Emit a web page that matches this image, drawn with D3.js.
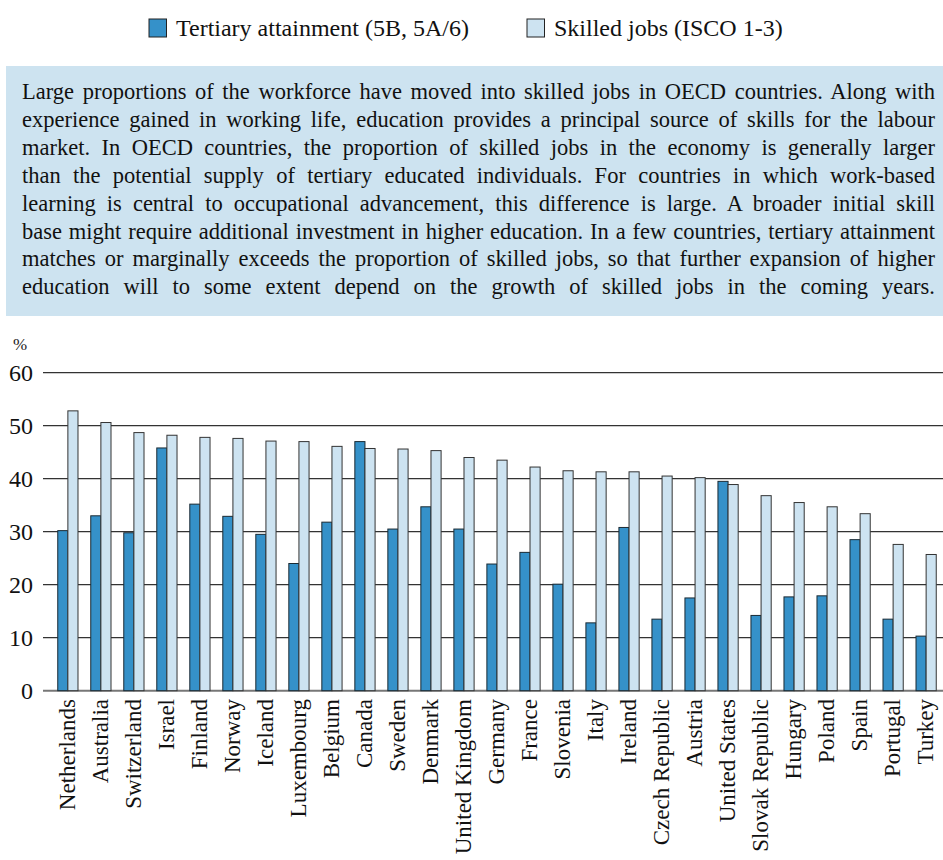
<!DOCTYPE html>
<html>
<head>
<meta charset="utf-8">
<script src="https://cdn.jsdelivr.net/npm/d3@7"></script>
<style>
  html, body { margin: 0; padding: 0; background: #fff; }
  svg { display: block; }
  svg text { font-family: "Liberation Serif", "DejaVu Serif", serif; }
</style>
</head>
<body>
<div id="chart"></div>
<script>
const countries = ["Netherlands","Australia","Switzerland","Israel","Finland","Norway","Iceland","Luxembourg","Belgium","Canada","Sweden","Denmark","United Kingdom","Germany","France","Slovenia","Italy","Ireland","Czech Republic","Austria","United States","Slovak Republic","Hungary","Poland","Spain","Portugal","Turkey"];
const tertiary = [30.2,33.0,29.8,45.8,35.2,32.9,29.5,24.0,31.8,47.0,30.5,34.7,30.5,23.9,26.1,20.1,12.8,30.8,13.5,17.5,39.5,14.2,17.7,17.9,28.5,13.5,10.3];
const skilled  = [52.8,50.6,48.7,48.2,47.8,47.6,47.1,47.0,46.1,45.7,45.6,45.3,44.0,43.5,42.2,41.5,41.3,41.3,40.5,40.2,38.9,36.8,35.5,34.7,33.4,27.6,25.7];
const seriesNames = ["Tertiary attainment (5B, 5A/6)", "Skilled jobs (ISCO 1-3)"];
const yTicks = [0,10,20,30,40,50,60];
const bodyLines = [
  "Large proportions of the workforce have moved into skilled jobs in OECD countries. Along with",
  "experience gained in working life, education provides a principal source of skills for the labour",
  "market. In OECD countries, the proportion of skilled jobs in the economy is generally larger",
  "than the potential supply of tertiary educated individuals. For countries in which work-based",
  "learning is central to occupational advancement, this difference is large. A broader initial skill",
  "base might require additional investment in higher education. In a few countries, tertiary attainment",
  "matches or marginally exceeds the proportion of skilled jobs, so that further expansion of higher",
  "education will to some extent depend on the growth of skilled jobs in the coming years."
];

const W = 943, H = 860;
const colors = ["#3591c9", "#cde3f1"];
const font = "Liberation Serif";

const svg = d3.select("#chart").append("svg").attr("width", W).attr("height", H);

// Legend
const legendItems = [{x: 149, name: seriesNames[0], c: colors[0]}, {x: 527, name: seriesNames[1], c: colors[1]}];
const lg = svg.append("g");
legendItems.forEach(d => {
  lg.append("rect").attr("x", d.x).attr("y", 19).attr("width", 17.5).attr("height", 18)
    .attr("fill", d.c).attr("stroke", "#222").attr("stroke-width", 1);
  lg.append("text").attr("x", d.x + 27).attr("y", 36).attr("font-size", 24)
    .attr("font-family", font).attr("fill", "#111").text(d.name);
});

// Text box
svg.append("rect").attr("x", 6).attr("y", 66).attr("width", W - 6).attr("height", 250)
  .attr("fill", "#cde3f0");
const textLeft = 22, textRight = 935, lineH = 27.86, firstBase = 99.3;
bodyLines.forEach((line, i) => {
  const t = svg.append("text").attr("x", textLeft).attr("y", firstBase + i * lineH)
    .attr("font-size", 22.5).attr("font-family", font).attr("fill", "#111").text(line);
  const nat = t.node().getComputedTextLength();
  const spaces = (line.match(/ /g) || []).length;
  const target = textRight - textLeft;
  const extra = (target - nat) / spaces;
  if (extra >= 0) {
    t.attr("word-spacing", extra);
  } else {
    t.attr("textLength", target).attr("lengthAdjust", "spacingAndGlyphs");
  }
});

// Chart
const x0 = 43, x1 = 951, yBase = 690.7, yTop = 372.7;
const y = d3.scaleLinear().domain([0, 60]).range([yBase, yTop]);
const x = d3.scaleBand().domain(countries).range([x0, x1]).paddingInner(0.387).paddingOuter(0.447);
const xs = d3.scaleBand().domain([0, 1]).range([0, x.bandwidth()]);

// % label
svg.append("text").attr("x", 13).attr("y", 350).attr("font-size", 17).attr("font-family", font)
  .attr("fill", "#222").text("%");

// gridlines and y ticks
const yAxis = svg.append("g");
yTicks.forEach(v => {
  yAxis.append("line").attr("x1", x0).attr("x2", W).attr("y1", y(v)).attr("y2", y(v))
    .attr("stroke", v === 0 ? "#777" : "#333").attr("stroke-width", v === 0 ? 2 : 1.3);
  yAxis.append("text").attr("x", 33).attr("y", y(v)).attr("dy", "0.35em")
    .attr("text-anchor", "end").attr("font-size", 24).attr("font-family", font)
    .attr("fill", "#111").text(v);
});

// bars
const groups = svg.append("g").selectAll("g").data(countries).join("g")
  .attr("transform", d => `translate(${x(d)},0)`);
groups.append("rect")
  .attr("x", xs(0)).attr("width", xs.bandwidth())
  .attr("y", (d, i) => y(tertiary[i])).attr("height", (d, i) => y(0) - y(tertiary[i]))
  .attr("fill", colors[0]).attr("stroke", "#1a2a33").attr("stroke-width", 1);
groups.append("rect")
  .attr("x", xs(1)).attr("width", xs.bandwidth())
  .attr("y", (d, i) => y(skilled[i])).attr("height", (d, i) => y(0) - y(skilled[i]))
  .attr("fill", colors[1]).attr("stroke", "#333").attr("stroke-width", 1);

// x labels
svg.append("g").selectAll("text").data(countries).join("text")
  .attr("transform", d => `translate(${x(d) + x.bandwidth() / 2 - 1},699) rotate(-90)`)
  .attr("dy", "0.35em").attr("text-anchor", "end").attr("font-size", 23)
  .attr("font-family", font).attr("fill", "#111").text(d => d);
</script>
</body>
</html>
